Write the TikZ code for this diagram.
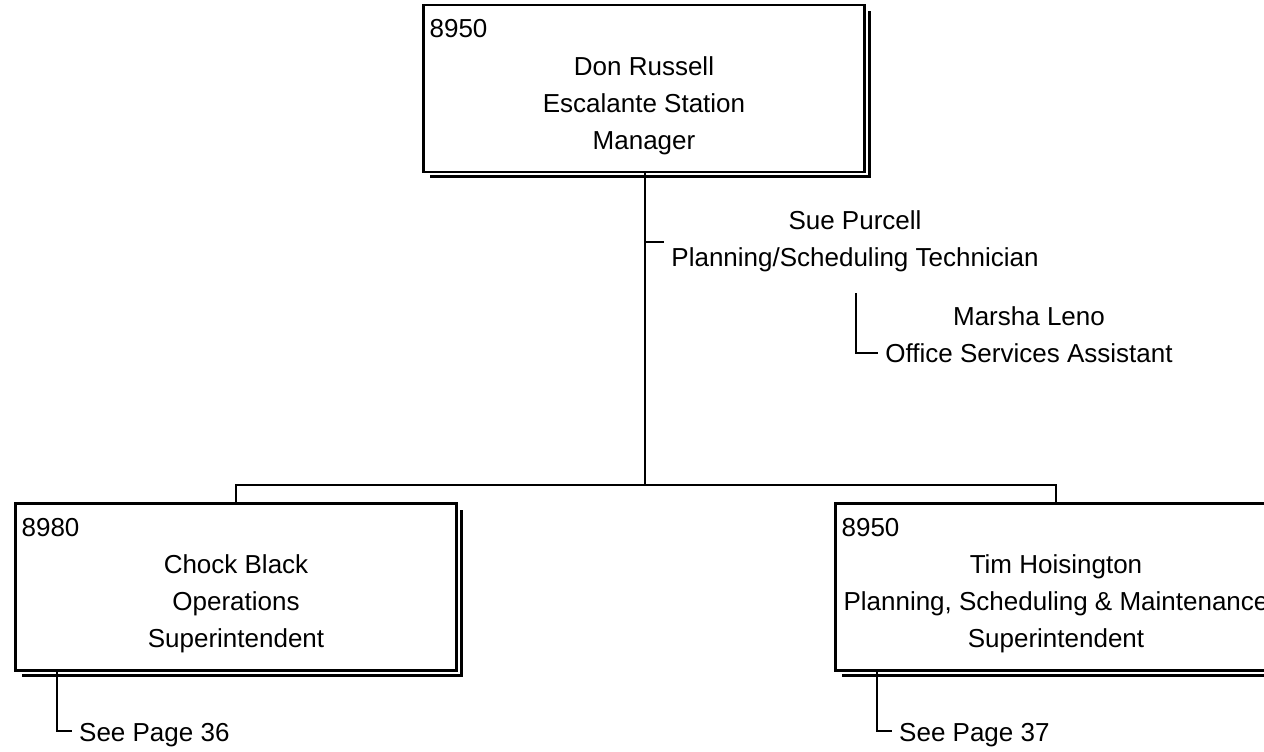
\documentclass[tikz,border=0pt]{standalone}
\usepackage{fontspec}
\setmainfont{Liberation Sans}
\usetikzlibrary{positioning,shadows}

\tikzset{
  posbox/.style={draw, line width=2.2pt, fill=white, inner sep=0pt,
    minimum width=441pt, minimum height=167pt,
    drop shadow={shadow xshift=6pt, shadow yshift=-6pt, fill=black, opacity=1},
    preaction={draw=white, line width=6pt}},
  posnum/.style={anchor=base west, inner sep=0pt},
  posline/.style={anchor=base, inner sep=0pt},
  link/.style={line width=2pt},
}

\begin{document}
\begin{tikzpicture}[x=1pt, y=-1pt, font=\fontsize{26}{37}\selectfont]
\useasboundingbox (0,0) rectangle (1264,752);
% station manager
\node[posbox] (mgr) at (644,88.5) {};
\node[posnum] (mgr-num) at ([xshift=7pt, yshift=-34pt]mgr.north west) {8950};
\foreach \t [count=\i] in {Don Russell, Escalante Station, Manager}
  \node[posline] (mgr-\i) at ([yshift={-35pt-37pt*\i}]mgr.north) {\t};

% superintendents
\node[posbox] (ops) at (236,587) {};
\node[posnum] (ops-num) at ([xshift=7pt, yshift=-34pt]ops.north west) {8980};
\foreach \t [count=\i] in {Chock Black, Operations, Superintendent}
  \node[posline] (ops-\i) at ([yshift={-34pt-37pt*\i}]ops.north) {\t};

\node[posbox] (psm) at (1056,587) {};
\node[posnum] (psm-num) at ([xshift=7pt, yshift=-34pt]psm.north west) {8950};
\foreach \t [count=\i] in {Tim Hoisington, {Planning, Scheduling \& Maintenance}, Superintendent}
  \node[posline] (psm-\i) at ([yshift={-34pt-37pt*\i}]psm.north) {\t};

% staff
\node[posline] (sue-1) at (855,229) {Sue Purcell};
\node[posline] (sue-2) at (855,266) {Planning/Scheduling Technician};
\node[posline] (msa-1) at (1029,325) {Marsha Leno};
\node[posline] (msa-2) at (1029,362) {Office Services Assistant};

% page references
\node[posnum] (see36) at (79,741) {See Page 36};
\node[posnum] (see37) at (899,741) {See Page 37};

% connectors
\coordinate (split) at (645,485);
\coordinate (sue-tie) at (645,242);
\coordinate (msa-tie) at (856,293);
\draw[link] (mgr.south -| split) -- (split);
\draw[link] (ops.north) |- (split) -| (psm.north);
\draw[link] (sue-tie) -- ([xshift=-7pt]sue-2.west |- sue-tie);
\draw[link] (msa-tie) |- ([xshift=-7pt]msa-2.west);
\draw[link] ([xshift=-179pt]ops.south) |- ([xshift=-7pt, yshift=10pt]see36.base west);
\draw[link] ([xshift=-179pt]psm.south) |- ([xshift=-7pt, yshift=10pt]see37.base west);
\end{tikzpicture}
\end{document}
